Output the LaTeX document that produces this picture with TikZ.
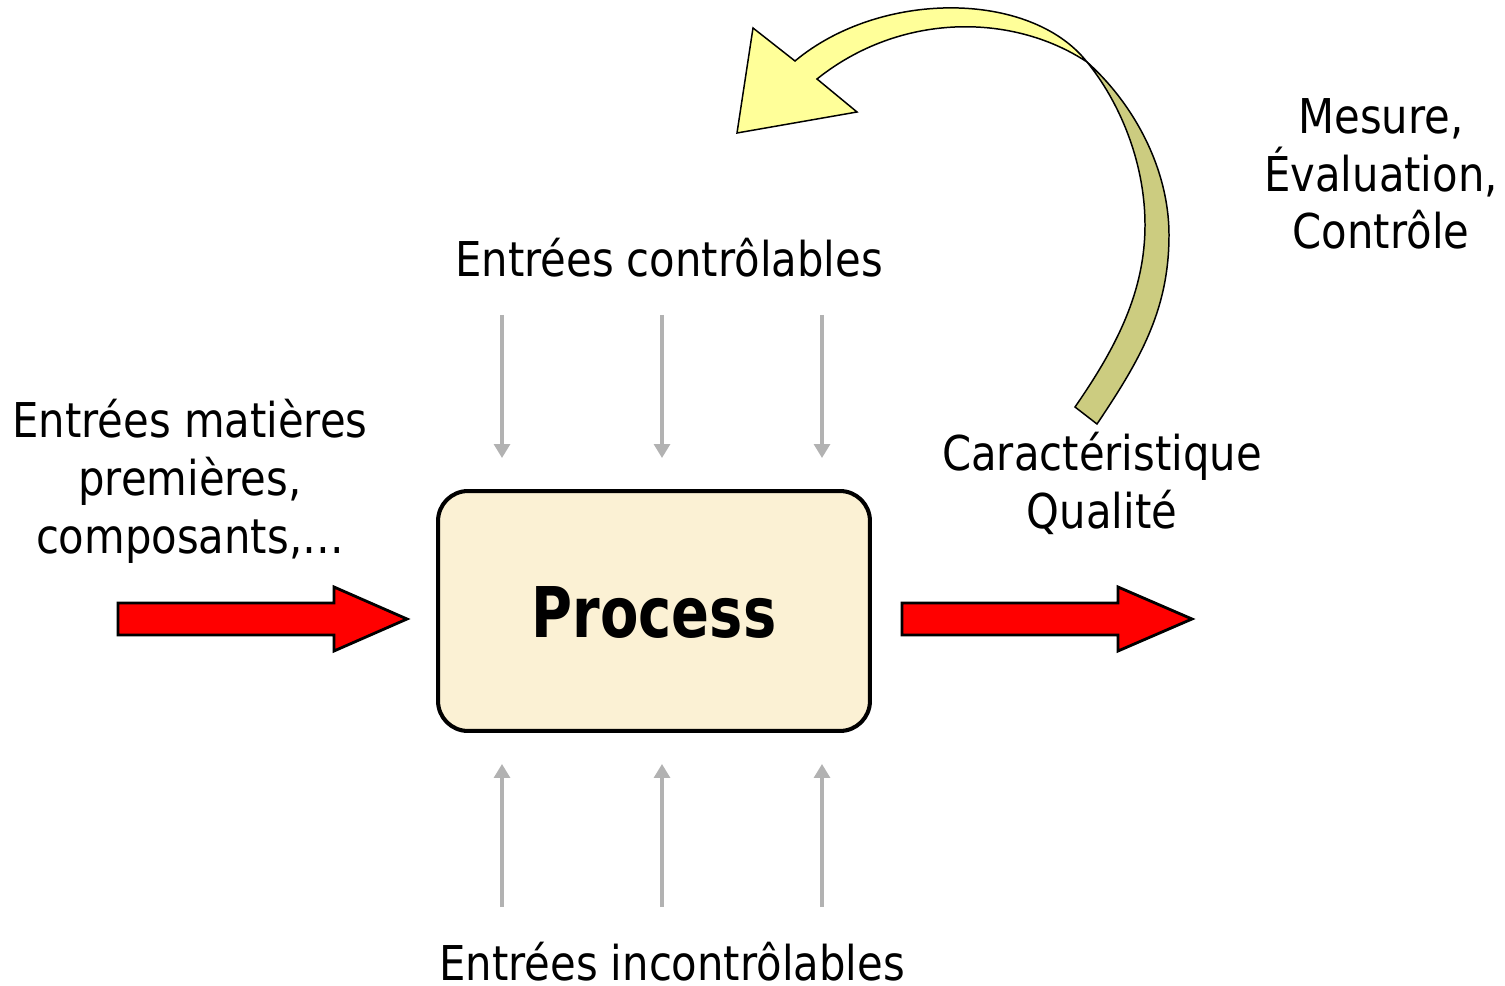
\documentclass[tikz,border=0pt]{standalone}
\usepackage{fontspec}
\setmainfont{DejaVu Sans}[FakeStretch=0.87]
\newfontfamily\procfont{DejaVu Sans}[FakeStretch=0.80]
\usetikzlibrary{arrows.meta,calc}

\definecolor{boxfill}{RGB}{251,241,212}
\definecolor{ribbonfront}{RGB}{255,255,153}
\definecolor{ribbonback}{RGB}{204,204,128}
\definecolor{inputgray}{RGB}{178,178,178}

\tikzset{
  label text/.style={font=\fontsize{27.3pt}{33pt}\selectfont, align=center, inner sep=0pt},
  processbox/.style={draw=black, line width=2.3pt, fill=boxfill, rounded corners=0.6cm,
    minimum width=8.64cm, minimum height=4.8cm, inner sep=0pt},
  redarrow/.style={draw=black, line width=1.6pt, fill=red, line join=miter},
  grayarrow/.style={draw=inputgray, line width=1.8pt,
    -{Triangle[width=0.32cm,length=0.28cm]}},
  ribbon/.style={draw=black, line width=0.85pt, line join=miter}
}

\begin{document}
\begin{tikzpicture}[x=0.02cm, y=-0.02cm]
\useasboundingbox (0,0) rectangle (1505,986);

% central process block
\node[processbox] (proc) at (654,611) {};
\node[anchor=base, inner sep=0pt, font=\procfont\bfseries\fontsize{39.8pt}{44pt}\selectfont]
  (proctext) at (654,637) {Process};

% block arrows: raw materials in, product out
\draw[redarrow] (118,603) -- (334,603) -- (334,587) -- (407,619) -- (334,651)
  -- (334,635) -- (118,635) -- cycle;
\draw[redarrow] (902,603) -- (1118,603) -- (1118,587) -- (1192,619) -- (1118,651)
  -- (1118,635) -- (902,635) -- cycle;

% controllable inputs from above
\foreach \x/\n in {502/a,662/b,822/c}{
  \coordinate (ctop\n) at (\x,315);
  \coordinate (cbot\n) at (\x,458);
  \draw[grayarrow] (ctop\n) -- (cbot\n);
}
% uncontrollable inputs from below
\foreach \x/\n in {502/a,662/b,822/c}{
  \coordinate (utop\n) at (\x,764);
  \coordinate (ubot\n) at (\x,907);
  \draw[grayarrow] (ubot\n) -- (utop\n);
}

% feedback ribbon: back face (descending part)
\coordinate (twist) at (1087,62);
\draw[ribbon, fill=ribbonback] (twist)
  .. controls (1135,105) and (1169,170) .. (1169,235)
  .. controls (1169,310) and (1140,360) .. (1097,424)
  -- (1075,407)
  .. controls (1118,345) and (1145,290) .. (1145,225)
  .. controls (1145,160) and (1118,100) .. (twist) -- cycle;
% feedback ribbon: front face with arrow head
\draw[ribbon, fill=ribbonfront] (twist)
  .. controls (1030,-10) and (880,-10) .. (795,61)
  -- (753,28) -- (737,133) -- (857,112) -- (817,79)
  .. controls (900,12.5) and (1012,12.5) .. (twist) -- cycle;

% labels (anchor=base sits on the last line's baseline)
\node[label text, anchor=base] (ctrl) at (669,277) {Entrées contrôlables};
\node[label text, anchor=base] (unctrl) at (672,980) {Entrées incontrôlables};
\node[label text, anchor=base] (raw) at (190,553) {Entrées matières\\premières,\\composants,…};
\node[label text, anchor=base] (quality) at (1102,528) {Caractéristique\\Qualité};
\node[label text, anchor=base] (measure) at (1381,249) {Mesure,\\Évaluation,\\Contrôle};
\end{tikzpicture}
\end{document}
